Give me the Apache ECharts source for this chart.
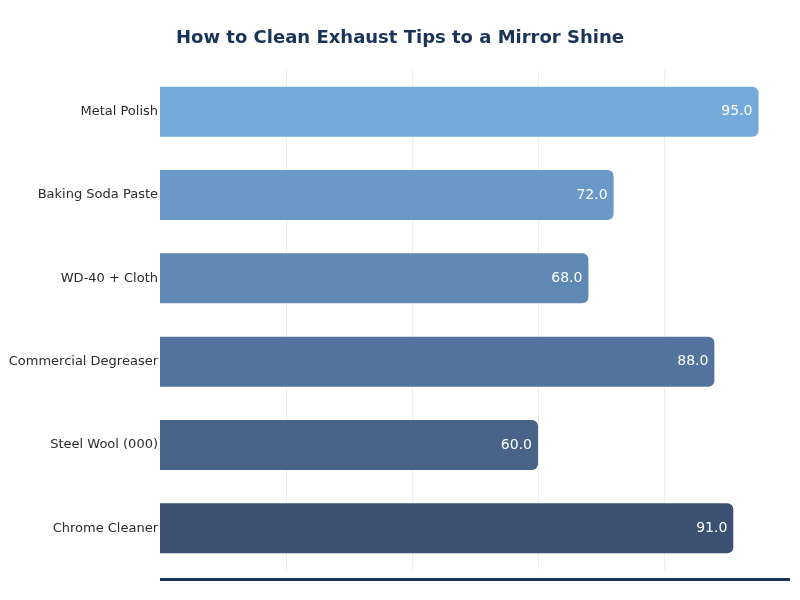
<!DOCTYPE html>
<html><head><meta charset="utf-8">
<script src="https://cdn.jsdelivr.net/npm/echarts@6/dist/echarts.min.js"></script>
<style>html,body{margin:0;padding:0;background:#fff}#c{width:800px;height:600px}</style>
</head><body><div id="c"></div>
<script>
const categories = ["Metal Polish","Baking Soda Paste","WD-40 + Cloth","Commercial Degreaser","Steel Wool (000)","Chrome Cleaner"];
const values = [95, 72, 68, 88, 60, 91];
const barColors = ["#74a9db","#6a98c8","#5f88b3","#52739c","#476388","#3d5273"];
const chart = echarts.init(document.getElementById('c'));
chart.setOption({
  backgroundColor:'#fff',
  animation:false,
  title:{text:'How to Clean Exhaust Tips to a Mirror Shine',left:'center',top:24,
    textStyle:{fontFamily:'DejaVu Sans',fontSize:18,fontWeight:'bold',color:'#1a3358'}},
  grid:{left:160,right:10,top:70,bottom:30},
  xAxis:{type:'value',min:0,max:100,interval:20,
    axisLabel:{show:false},axisTick:{show:false},
    axisLine:{show:true,onZero:false,lineStyle:{color:'#1a3358',width:3,cap:'butt'}},
    offset:9,
    splitLine:{show:true,showMinLine:false,showMaxLine:false,lineStyle:{color:'#eeeeee',width:1}}},
  yAxis:{type:'category',data:categories,inverse:true,
    axisLine:{show:false},axisTick:{show:false},
    axisLabel:{fontFamily:'DejaVu Sans',fontSize:13,color:'#2b2b2b',margin:2}},
  series:[{type:'bar',barWidth:'60%',
    data:values.map((v,i)=>({value:v,itemStyle:{color:barColors[i]}})),
    itemStyle:{borderRadius:[0,6,6,0]},
    label:{show:true,position:'insideRight',distance:6,color:'#fff',fontFamily:'DejaVu Sans',fontSize:14,
      formatter:p=>p.value.toFixed(1)}}]
});
</script></body></html>
